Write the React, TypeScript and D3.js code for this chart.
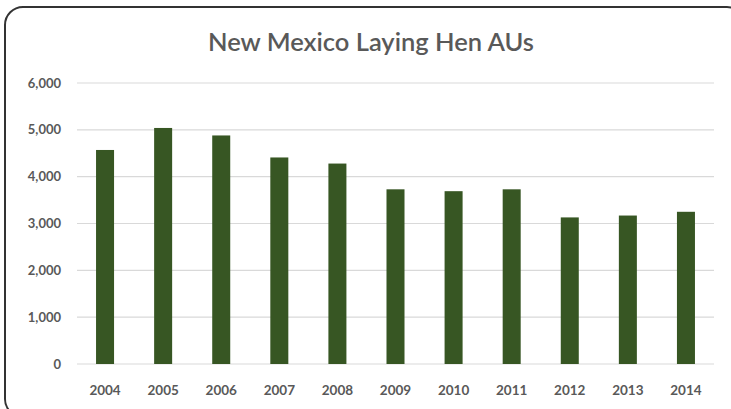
import React from "react";
import * as d3 from "d3";

const years = ["2004","2005","2006","2007","2008","2009","2010","2011","2012","2013","2014"];
const values = [4570, 5040, 4880, 4410, 4280, 3730, 3690, 3730, 3130, 3170, 3250];
const yTicks = [0, 1000, 2000, 3000, 4000, 5000, 6000];
const title = "New Mexico Laying Hen AUs";

export default function App() {
  const W = 731, H = 409;
  const x = d3.scaleBand<string>().domain(years).range([76, 715]).paddingInner(0.69).paddingOuter(0.345);
  const y = d3.scaleLinear().domain([0, 6000]).range([364, 83]);
  const fmt = d3.format(",");
  const font = "Lato, 'Open Sans', sans-serif";
  return (
    <svg width={W} height={H} style={{ position: "absolute", left: 0, top: 0, background: "#fff" }}>
      <rect x={5} y={7} width={740} height={410} rx={18} ry={18} fill="#fff" stroke="#333" strokeWidth={2} />
      <text x={371} y={51} textAnchor="middle" fontFamily={font} fontSize={24} fill="#595959" fontWeight={600} textLength={326} lengthAdjust="spacingAndGlyphs">{title}</text>
      {yTicks.map(t => (
        <g key={t}>
          <line x1={77} x2={714} y1={y(t)} y2={y(t)} stroke="#d9d9d9" strokeWidth={1.2} />
          <text x={61} y={y(t)} dy="0.35em" textAnchor="end" fontFamily={font} fontSize={13} fontWeight={700} fill="#595959">{fmt(t)}</text>
        </g>
      ))}
      {years.map((yr, i) => (
        <rect key={yr} x={x(yr)} y={y(values[i])} width={x.bandwidth()} height={y(0) - y(values[i])} fill="#375623" />
      ))}
      {years.map(yr => (
        <text key={yr} x={(x(yr) as number) + x.bandwidth() / 2} y={390} dy="0.35em" textAnchor="middle" fontFamily={font} fontSize={13.5} fontWeight={700} fill="#595959">{yr}</text>
      ))}
    </svg>
  );
}
